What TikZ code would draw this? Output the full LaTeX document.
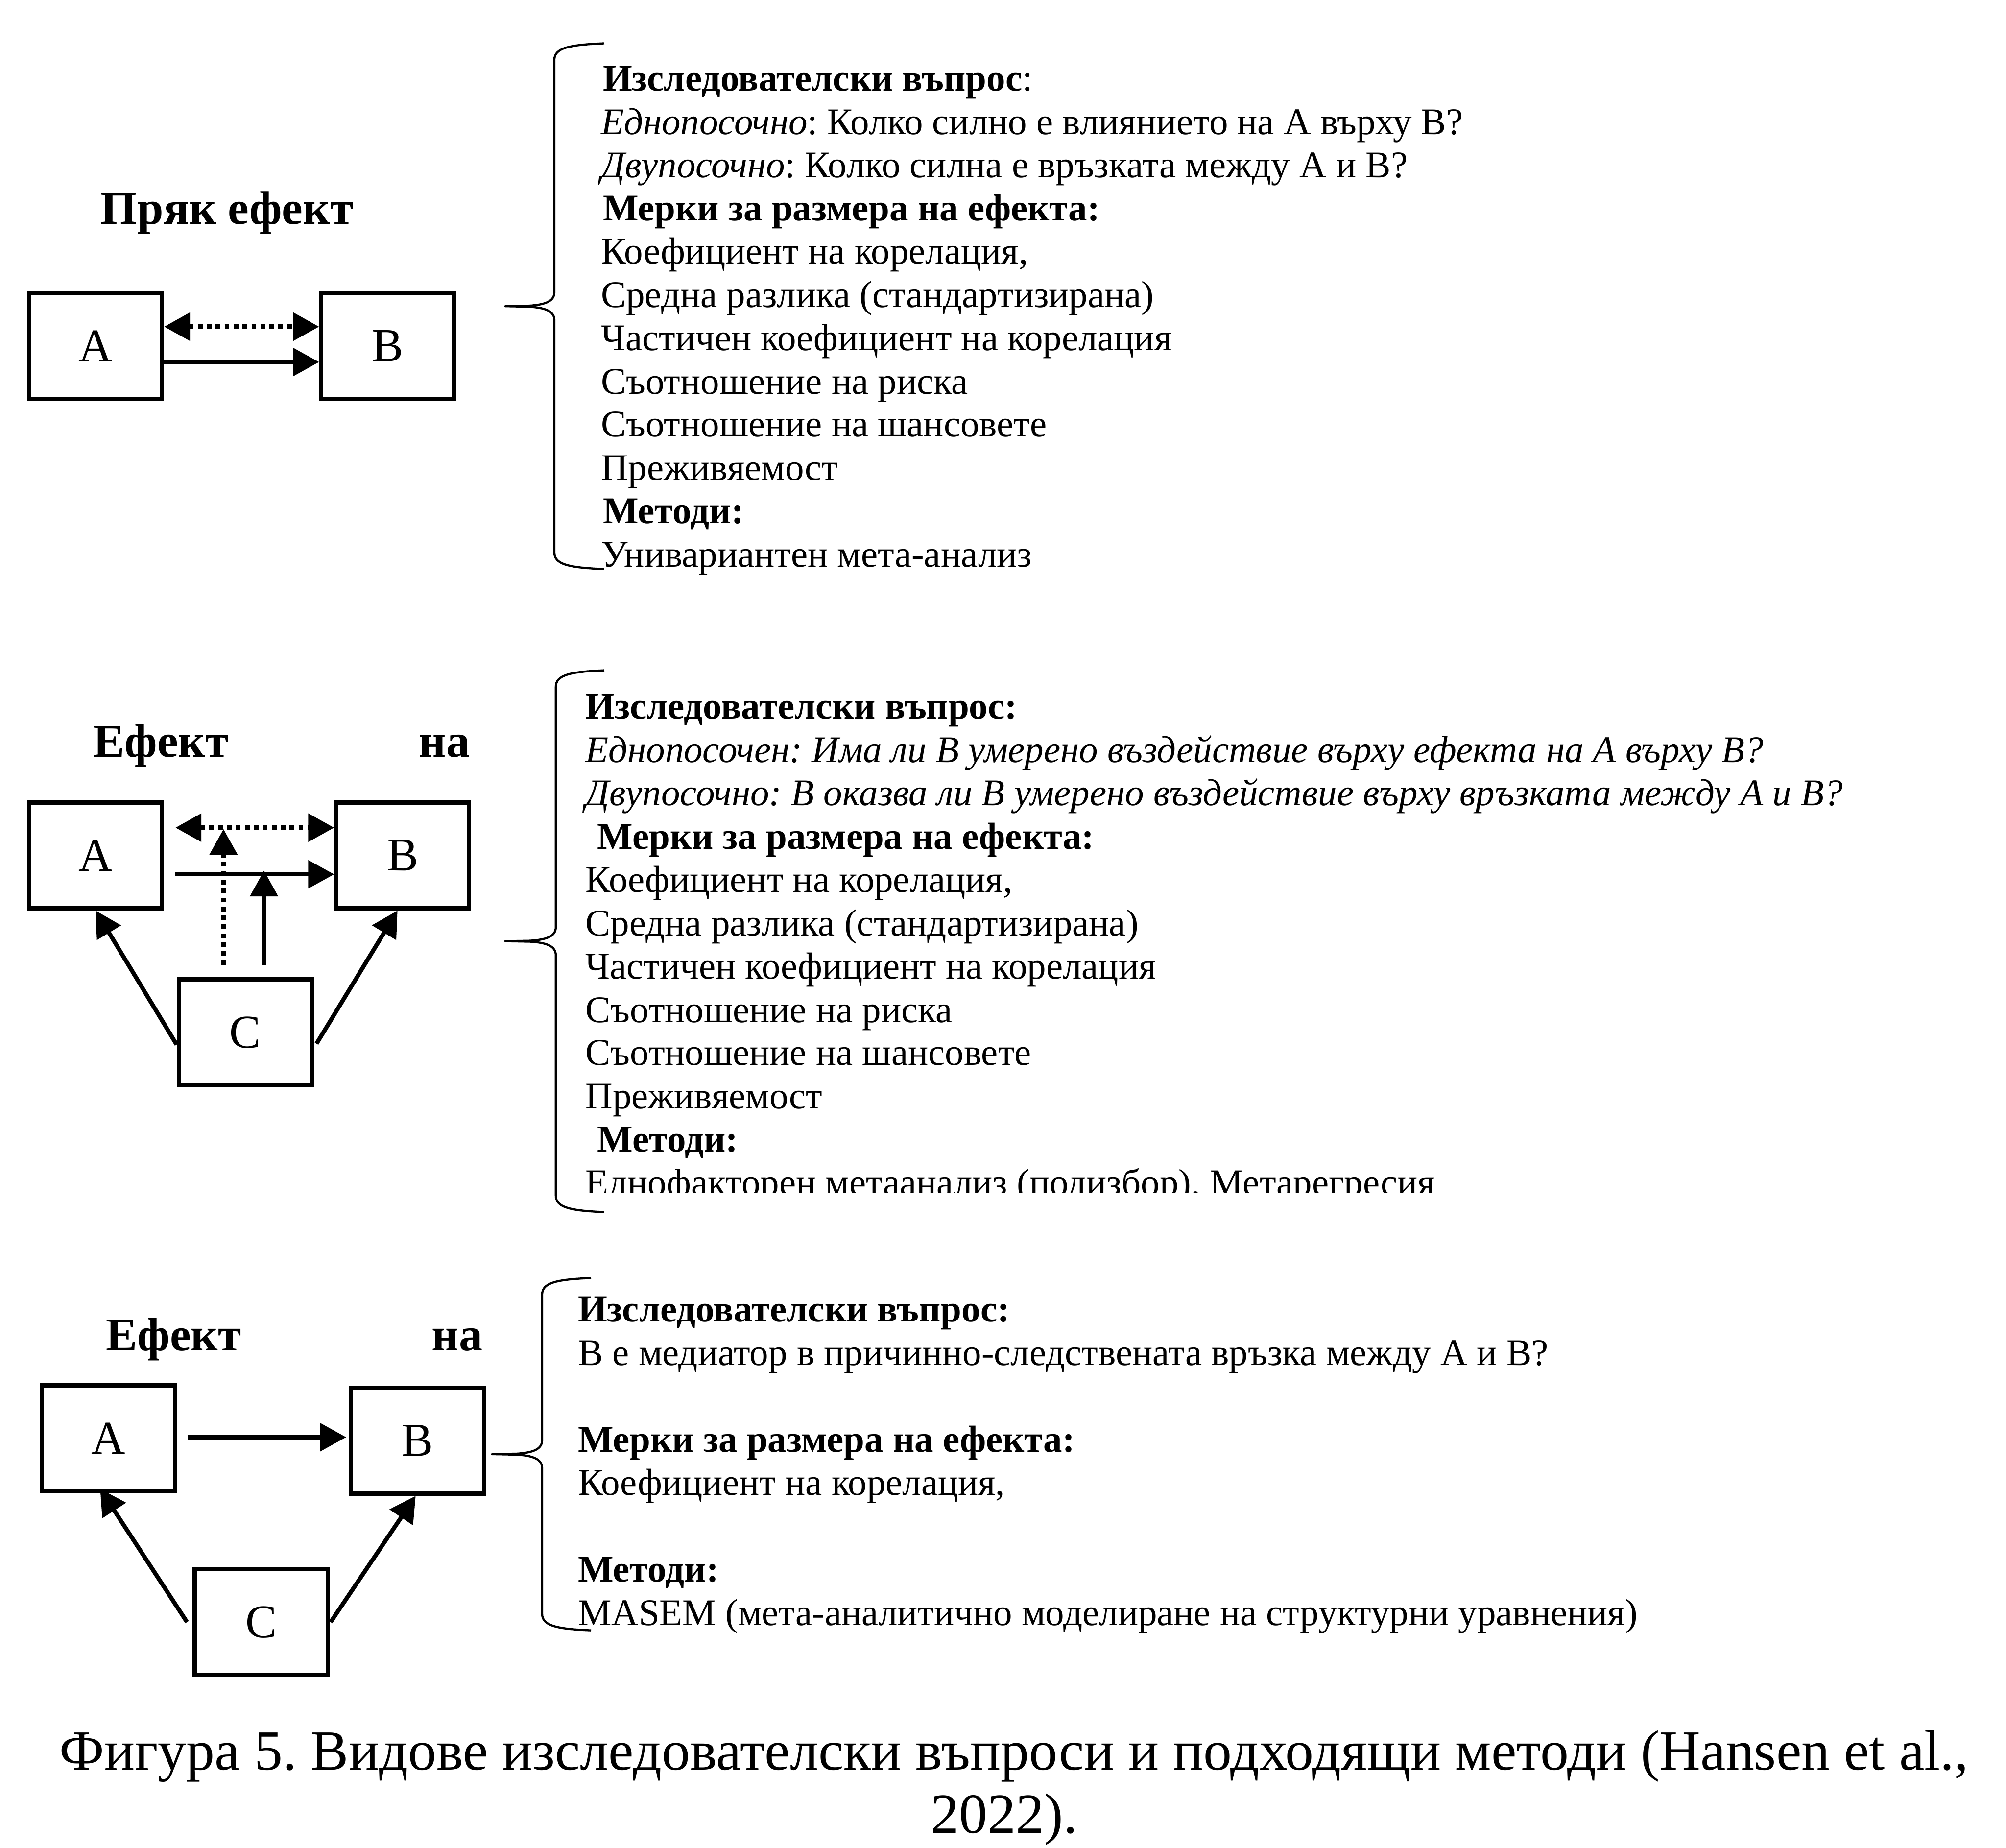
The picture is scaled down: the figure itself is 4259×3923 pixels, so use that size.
\documentclass[tikz,border=0pt]{standalone}
\usepackage{fontspec}
\setmainfont{Liberation Serif}
\usetikzlibrary{arrows.meta,calc}
\frenchspacing
\newcommand\drawbrace[6]{% #1 tip x, #2 vertical x, #3 end x, #4 top y, #5 mid y, #6 bottom y
  \draw[brc] (#3,#4) .. controls (#2+30,#4+3) and (#2,#4+10) .. (#2,#4+35)
    -- (#2,#5-30) .. controls (#2,#5-10) and (#2-20,#5-3) .. (#2-55,#5-1) -- (#1,#5)
    -- (#2-55,#5+1) .. controls (#2-20,#5+3) and (#2,#5+10) .. (#2,#5+30)
    -- (#2,#6-35) .. controls (#2,#6-10) and (#2+30,#6-3) .. (#3,#6);}
\begin{document}
\begin{tikzpicture}[x=0.1pt,y=-0.1pt,
  box/.style={draw,line width=0.9pt,minimum width=28.2pt,minimum height=22.5pt,inner sep=0pt,font=\fontsize{10}{12}\selectfont},
  arr/.style={line width=0.9pt,-{Triangle[length=5.5pt,width=5.8pt]}},
  darr/.style={line width=0.9pt,{Triangle[length=5.5pt,width=5.8pt]}-{Triangle[length=5.5pt,width=5.8pt]}},
  dots/.style={dash pattern=on 1pt off 0.9pt,line width=1pt},
  txt/.style={anchor=base west,inner sep=0pt,font=\fontsize{8.0}{9.6}\selectfont},
  ttl/.style={anchor=base west,inner sep=0pt,font=\bfseries\fontsize{10}{12}\selectfont},
  capt/.style={anchor=base,inner sep=0pt,font=\fontsize{12.05}{14}\selectfont},
  brc/.style={line width=0.45pt,line join=round}]
\useasboundingbox (0,0) rectangle (4259,3923);
\fill[white] (0,0) rectangle (4259,3923);

% ---------- top: direct effect ----------
\node[ttl] (T1) at (212,476) {Пряк ефект};
\node[box] (A1) at (203,734.5) {A};
\node[box] (B1) at (823,734.5) {B};
\draw[darr,dots] ($(A1.east)+(0,-41)$) -- ($(B1.west)+(0,-41)$);
\draw[arr] ($(A1.east)+(0,34)$) -- ($(B1.west)+(0,34)$);
\drawbrace{1073}{1177}{1283}{92}{650}{1208}

\node[txt] (t1a) at (1278,193) {\textbf{Изследователски въпрос}:};
\node[txt] (t1b) at (1274,285) {\textit{Еднопосочно}: Колко силно е влиянието на А върху В?};
\node[txt] (t1c) at (1274,377) {\textit{Двупосочно}: Колко силна е връзката между А и В?};
\node[txt] (t1d) at (1278,468) {\textbf{Мерки за размера на ефекта:}};
\node[txt] (t1e) at (1274,560) {Коефициент на корелация,};
\node[txt] (t1f) at (1274,652) {Средна разлика (стандартизирана)};
\node[txt] (t1g) at (1274,744) {Частичен коефициент на корелация};
\node[txt] (t1h) at (1274,836) {Съотношение на риска};
\node[txt] (t1i) at (1274,927) {Съотношение на шансовете};
\node[txt] (t1j) at (1274,1019) {Преживяемост};
\node[txt] (t1k) at (1278,1111) {\textbf{Методи:}};
\node[txt] (t1l) at (1274,1203) {Унивариантен мета-анализ};

% ---------- middle: moderation ----------
\node[ttl] (T2a) at (196,1607) {Ефект};
\node[ttl] (T2b) at (888,1607) {на};
\node[box] (A2) at (203,1816) {A};
\node[box] (B2) at (855,1816) {B};
\node[box] (C2) at (520.5,2191.5) {C};
\coordinate (d2) at (474.5,1760);
\coordinate (s2) at (560.5,1848);
\draw[darr,dots] ($(A2.east)+(24,-59)$) -- ($(B2.west)+(0,-59)$);
\draw[arr] ($(A2.east)+(24,40)$) -- ($(B2.west)+(0,40)$);
\draw[arr,dots] ($(C2.north)+(-46,-26)$) -- (d2);
\draw[arr] ($(C2.north)+(40,-26)$) -- (s2);
\draw[arr] ($(C2.west)+(0,26)$) -- (A2.south);
\draw[arr] ($(C2.east)+(6,24)$) -- ($(B2.south)+(-11,0)$);
\drawbrace{1073}{1180}{1283}{1423}{1998}{2573}

\node[txt] (t2a) at (1241,1526) {\textbf{Изследователски въпрос:}};
\node[txt] (t2b) at (1241,1618) {\textit{Еднопосочен: Има ли В умерено въздействие върху ефекта на А върху В?}};
\node[txt] (t2c) at (1241,1710) {\textit{Двупосочно: В оказва ли В умерено въздействие върху връзката между А и В?}};
\node[txt] (t2d) at (1266,1802) {\textbf{Мерки за размера на ефекта:}};
\node[txt] (t2e) at (1241,1894) {Коефициент на корелация,};
\node[txt] (t2f) at (1241,1986) {Средна разлика (стандартизирана)};
\node[txt] (t2g) at (1241,2078) {Частичен коефициент на корелация};
\node[txt] (t2h) at (1241,2170) {Съотношение на риска};
\node[txt] (t2i) at (1241,2261) {Съотношение на шансовете};
\node[txt] (t2j) at (1241,2353) {Преживяемост};
\node[txt] (t2k) at (1266,2445) {\textbf{Методи:}};
\begin{scope}
  \clip (1200,2420) rectangle (4259,2532);
  \node[txt] (t2l) at (1241,2538) {Еднофакторен метаанализ (подизбор), Метарегресия};
\end{scope}

% ---------- bottom: mediation ----------
\node[ttl] (T3a) at (223,2867) {Ефект};
\node[ttl] (T3b) at (915,2867) {на};
\node[box] (A3) at (230.5,3053.5) {A};
\node[box] (B3) at (886.5,3058.5) {B};
\node[box] (C3) at (554.5,3443.5) {C};
\draw[arr] ($(A3.east)+(22,-2.5)$) -- ($(B3.west)+(-6,-7.5)$);
\draw[arr] ($(C3.west)+(-12,0)$) -- ($(A3.south)+(-18,-10)$);
\draw[arr] ($(C3.east)+(2,0)$) -- ($(B3.south)+(-4,0)$);
\drawbrace{1045}{1151}{1255}{2713}{3087}{3461}

\node[txt] (t3a) at (1225,2806) {\textbf{Изследователски въпрос:}};
\node[txt] (t3b) at (1225,2898) {В е медиатор в причинно-следствената връзка между А и В?};
\node[txt] (t3c) at (1225,3082) {\textbf{Мерки за размера на ефекта:}};
\node[txt] (t3d) at (1225,3174) {Коефициент на корелация,};
\node[txt] (t3e) at (1225,3358) {\textbf{Методи:}};
\node[txt] (t3f) at (1225,3450) {MASEM (мета-аналитично моделиране на структурни уравнения)};

% ---------- caption ----------
\node[capt] (cap1) at (2153,3757) {Фигура 5. Видове изследователски въпроси и подходящи методи (Hansen et al.,};
\node[capt] (cap2) at (2132,3891) {2022).};
\end{tikzpicture}
\end{document}
